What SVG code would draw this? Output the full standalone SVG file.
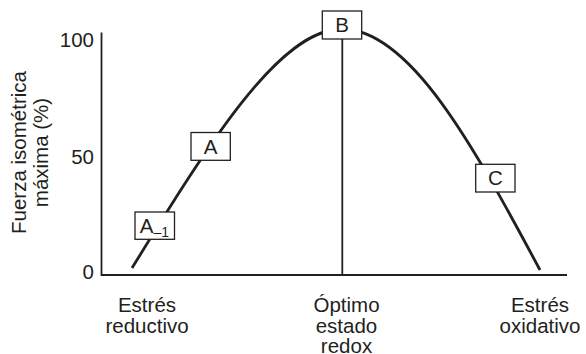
<svg xmlns="http://www.w3.org/2000/svg" width="586" height="354" viewBox="0 0 586 354">
<style>
text{font-family:"Liberation Sans",Arial,sans-serif;font-size:20.5px;fill:#231f20}
.m{text-anchor:middle}
.e{text-anchor:end}
.box{fill:#fff;stroke:#231f20;stroke-width:1.3}
.ax{fill:none;stroke:#231f20;stroke-width:1.8}
.cv{fill:none;stroke:#231f20;stroke-width:2.8}
</style>
<rect width="586" height="354" fill="#fff"/>
<g id="axes">
<path class="ax" d="M101.5,32.5 V275 H567"/>
<text class="e" x="94" y="46.5">100</text>
<text class="e" x="94" y="164">50</text>
<text class="e" x="94" y="278.5">0</text>
<text class="m" transform="translate(26,152.5) rotate(-90)">Fuerza isométrica</text>
<text class="m" transform="translate(47.5,152.5) rotate(-90)">máxima (%)</text>
<text class="m" x="147" y="312.3">Estrés</text>
<text class="m" x="147" y="333">reductivo</text>
<text class="m" x="346.5" y="312.3">Óptimo</text>
<text class="m" x="346.5" y="332.8">estado</text>
<text class="m" x="346.5" y="352.5">redox</text>
<text class="m" x="540" y="312.3">Estrés</text>
<text class="m" x="540" y="333">oxidativo</text>
</g>
<g id="connectors">
<path class="cv" d="M132,268 C210.8,140.4 280,29 342,29 C410,29 474,146.8 540,270"/>
<line class="ax" x1="342.3" y1="39" x2="342.3" y2="275" stroke-width="1.5"/>
</g>
<g id="node-A1">
<rect class="box" x="135" y="212" width="39.5" height="27.3"/>
<text class="m" x="154.5" y="233.3">A<tspan font-size="14" dy="4">–1</tspan></text>
</g>
<g id="node-A">
<rect class="box" x="191" y="132.5" width="39.3" height="27.8"/>
<text class="m" x="210.7" y="153.5">A</text>
</g>
<g id="node-B">
<rect class="box" x="322.3" y="11" width="39.4" height="28"/>
<text class="m" x="342" y="31.8">B</text>
</g>
<g id="node-C">
<rect class="box" x="475.7" y="164.3" width="39.3" height="27.7"/>
<text class="m" x="495.3" y="185.2">C</text>
</g>
</svg>
